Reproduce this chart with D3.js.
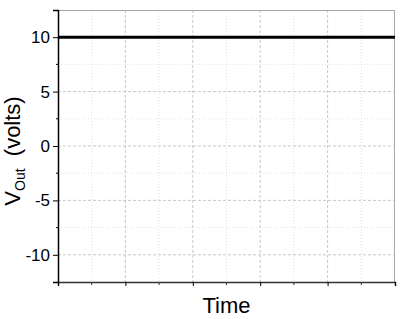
<!DOCTYPE html>
<html>
<head>
<meta charset="utf-8">
<script src="https://cdn.jsdelivr.net/npm/d3@7"></script>
<style>
  body { margin: 0; background: #fff; }
  text { font-family: "Liberation Sans", Arial, sans-serif; }
</style>
</head>
<body>
<div id="chart"></div>
<script>
// data
const timeValues = [0, 5];
const voutValues = [10, 10];
const yTicks = [-10, -5, 0, 5, 10];
const yMinorTicks = [-12.5, -7.5, -2.5, 2.5, 7.5, 12.5];
const xTicks = [0, 1, 2, 3, 4, 5];
const xMinorTicks = [0.5, 1.5, 2.5, 3.5, 4.5];

const dimensions = {
  width: 407,
  height: 319,
  margin: { top: 10, right: 12, bottom: 37, left: 58 },
};
dimensions.boundedWidth = dimensions.width - dimensions.margin.left - dimensions.margin.right;
dimensions.boundedHeight = dimensions.height - dimensions.margin.top - dimensions.margin.bottom;

const svg = d3.select("#chart")
  .append("svg")
  .attr("width", dimensions.width)
  .attr("height", dimensions.height);

const bounds = svg.append("g")
  .attr("transform", `translate(${dimensions.margin.left},${dimensions.margin.top})`);

const x = d3.scaleLinear().domain([0, 5]).range([0, dimensions.boundedWidth]);
const y = d3.scaleLinear().domain([-12.5, 12.5]).range([dimensions.boundedHeight, 0]);

// grid - minor first
bounds.append("g").selectAll("line")
  .data(xMinorTicks)
  .join("line")
  .attr("x1", d => x(d)).attr("x2", d => x(d))
  .attr("y1", 0).attr("y2", dimensions.boundedHeight)
  .attr("stroke", "#e2e2e2")
  .attr("stroke-dasharray", "1,2");

bounds.append("g").selectAll("line")
  .data(yMinorTicks.filter(d => Math.abs(d) < 12.5))
  .join("line")
  .attr("x1", 0).attr("x2", dimensions.boundedWidth)
  .attr("y1", d => y(d)).attr("y2", d => y(d))
  .attr("stroke", "#e2e2e2")
  .attr("stroke-dasharray", "1,2");

bounds.append("g").selectAll("line")
  .data(xTicks.slice(1, -1))
  .join("line")
  .attr("x1", d => x(d)).attr("x2", d => x(d))
  .attr("y1", 0).attr("y2", dimensions.boundedHeight)
  .attr("stroke", "#c8c8c8")
  .attr("stroke-dasharray", "3,2");

bounds.append("g").selectAll("line")
  .data(yTicks)
  .join("line")
  .attr("x1", 0).attr("x2", dimensions.boundedWidth)
  .attr("y1", d => y(d)).attr("y2", d => y(d))
  .attr("stroke", "#c8c8c8")
  .attr("stroke-dasharray", "3,2");

// top / right frame
bounds.append("line")
  .attr("x1", 0).attr("x2", dimensions.boundedWidth)
  .attr("y1", 0.5).attr("y2", 0.5)
  .attr("stroke", "#a8a8a8");
bounds.append("line")
  .attr("x1", dimensions.boundedWidth - 0.5).attr("x2", dimensions.boundedWidth - 0.5)
  .attr("y1", 0).attr("y2", dimensions.boundedHeight)
  .attr("stroke", "#a8a8a8");

// line
const lineGenerator = d3.line()
  .x((d, i) => x(timeValues[i]))
  .y(d => y(d));

bounds.append("path")
  .attr("d", lineGenerator(voutValues))
  .attr("fill", "none")
  .attr("stroke", "#000")
  .attr("stroke-width", 3);

// axes
const yAxisGenerator = d3.axisLeft(y).tickValues(yTicks).tickSize(5).tickPadding(3);
const yAxis = bounds.append("g").call(yAxisGenerator);
yAxis.select(".domain").attr("stroke", "#000").attr("stroke-width", 1.5);
yAxis.selectAll(".tick text")
  .style("font-size", "17px")
  .attr("fill", "#000")
  .text(d => d < 0 ? "-" + Math.abs(d) : d);

bounds.append("g").selectAll("line")
  .data(yMinorTicks.filter(d => Math.abs(d) < 12.5))
  .join("line")
  .attr("x1", -2).attr("x2", 0)
  .attr("y1", d => y(d)).attr("y2", d => y(d))
  .attr("stroke", "#000");

const xAxisGenerator = d3.axisBottom(x).tickValues(xTicks).tickSize(4).tickFormat("");
const xAxis = bounds.append("g")
  .attr("transform", `translate(0,${dimensions.boundedHeight})`)
  .call(xAxisGenerator);
xAxis.select(".domain").attr("stroke", "#333").attr("stroke-width", 1.5);

bounds.append("g")
  .attr("transform", `translate(0,${dimensions.boundedHeight})`)
  .selectAll("line")
  .data(xMinorTicks)
  .join("line")
  .attr("x1", d => x(d)).attr("x2", d => x(d))
  .attr("y1", 0).attr("y2", 3)
  .attr("stroke", "#333");

// labels
svg.append("text")
  .attr("x", dimensions.margin.left + dimensions.boundedWidth / 2)
  .attr("y", 313)
  .attr("text-anchor", "middle")
  .style("font-size", "22px")
  .text("Time");

const yLabel = svg.append("text")
  .attr("transform", "translate(20, 151) rotate(-90)")
  .attr("text-anchor", "middle")
  .style("font-size", "22px")
  .style("white-space", "pre");
yLabel.append("tspan").text("V");
yLabel.append("tspan").attr("dy", 5).style("font-size", "14px").text("Out");
yLabel.append("tspan").attr("dy", -5).text("  (volts)");
</script>
</body>
</html>
